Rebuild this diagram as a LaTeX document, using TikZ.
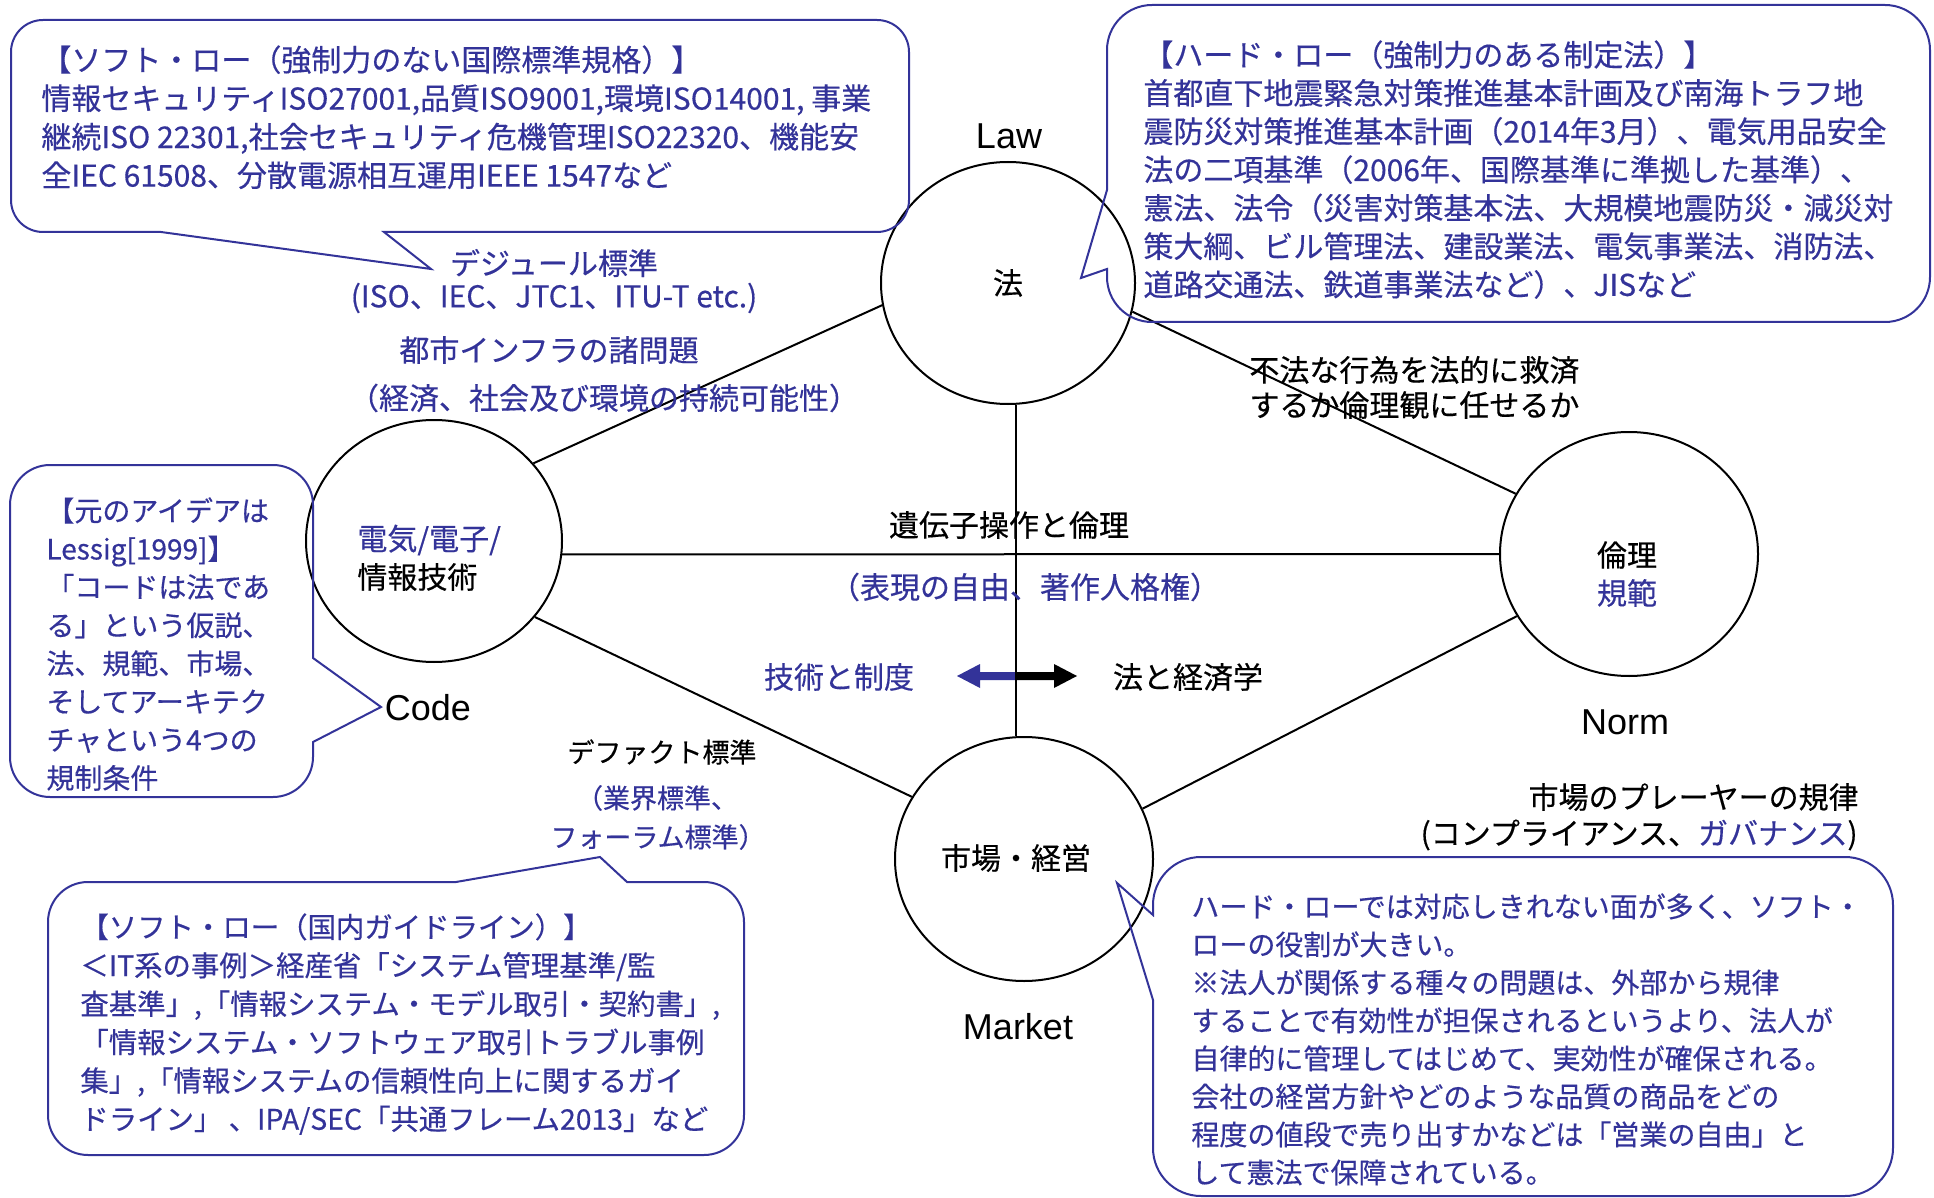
\documentclass[tikz,border=0pt]{standalone}
\usepackage{fontspec}
\setmainfont{Noto Sans CJK JP}[UprightFeatures={FakeBold=0.4}]
\newfontfamily\arialf{Liberation Sans}
\usetikzlibrary{shapes.geometric}
\definecolor{bl}{RGB}{51,51,153}
\tikzset{
  circ/.style={ellipse, draw, line width=1pt, inner sep=0pt},
  conn/.style={draw, line width=1pt},
  callout/.style={draw=bl, line width=1pt, line join=miter},
  jp/.style={inner sep=0pt, font=\fontsize{15}{18}\selectfont},
  jps/.style={inner sep=0pt, font=\fontsize{13.5}{16}\selectfont},
  para/.style={inner sep=0pt, align=left, anchor=north west, text=bl},
  lbl/.style={inner sep=0pt, font=\arialf\fontsize{18}{20}\selectfont},
}
\begin{document}
\begin{tikzpicture}[x=0.5pt,y=-0.5pt]
\fill[white] (0,0) rectangle (1934,1198);
\useasboundingbox (0,0) rectangle (1934,1198);

% circles
\node[circ, minimum width=127pt, minimum height=121pt] (law) at (1008,283) {};
\node[circ, minimum width=128pt, minimum height=121pt] (code) at (434,541) {};
\node[circ, minimum width=129pt, minimum height=122pt] (norm) at (1629,554) {};
\node[circ, minimum width=129pt, minimum height=122pt] (market) at (1024,859) {};

% double arrow
\fill[bl] (1017,672) -- (980,672) -- (980,664) -- (957,676) -- (980,688) -- (980,680) -- (1017,680) -- cycle;
\fill[black] (1017,672) -- (1054,672) -- (1054,664) -- (1077,676) -- (1054,688) -- (1054,680) -- (1017,680) -- cycle;

% connectors
\draw[conn] (law.190) -- (code.38);
\draw[conn] (law.347) -- (norm.152);
\draw[conn] (code.323) -- (market.151);
\draw[conn] (norm.209) -- (market.23);
\draw[conn] (code.354) -- (norm.180);
\draw[conn] ([xshift=4pt]law.south) -- ([xshift=-4pt]market.north);

% callouts
\draw[callout] (43,20) -- (877,20) arc[start angle=90,end angle=0,radius=16pt] -- (909,200) arc[start angle=0,end angle=-90,radius=16pt] -- (384,232) -- (431,269) -- (161,232) -- (43,232) arc[start angle=270,end angle=180,radius=16pt] -- (11,52) arc[start angle=180,end angle=90,radius=16pt] -- cycle;
\draw[callout] (1152,5) -- (1885,5) arc[start angle=90,end angle=0,radius=22.5pt] -- (1930,277) arc[start angle=0,end angle=-90,radius=22.5pt] -- (1152,322) arc[start angle=270,end angle=180,radius=22.5pt] -- (1107,269) -- (1081,278) -- (1107,190) -- (1107,50) arc[start angle=180,end angle=90,radius=22.5pt] -- cycle;
\draw[callout] (50,465) -- (273,465) arc[start angle=90,end angle=0,radius=20pt] -- (313,658) -- (381,707) -- (313,742) -- (313,757) arc[start angle=0,end angle=-90,radius=20pt] -- (50,797) arc[start angle=270,end angle=180,radius=20pt] -- (10,505) arc[start angle=180,end angle=90,radius=20pt] -- cycle;
\draw[callout] (88,882) -- (456,882) -- (600,857) -- (627,882) -- (704,882) arc[start angle=90,end angle=0,radius=20pt] -- (744,1115) arc[start angle=0,end angle=-90,radius=20pt] -- (88,1155) arc[start angle=270,end angle=180,radius=20pt] -- (48,922) arc[start angle=180,end angle=90,radius=20pt] -- cycle;
\draw[callout] (1201,857) -- (1845,857) arc[start angle=90,end angle=0,radius=24pt] -- (1893,1148) arc[start angle=0,end angle=-90,radius=24pt] -- (1201,1196) arc[start angle=270,end angle=180,radius=24pt] -- (1153,1000) -- (1117,883) -- (1153,915) -- (1153,905) arc[start angle=180,end angle=90,radius=24pt] -- cycle;

% callout texts
\node[para, font=\fontsize{15}{19.25}\selectfont] (t1) at (41,45) {【ソフト・ロー（強制力のない国際標準規格）】\\情報セキュリティISO27001,品質ISO9001,環境ISO14001, 事業\\継続ISO 22301,社会セキュリティ危機管理ISO22320、機能安\\全IEC 61508、分散電源相互運用IEEE 1547など};
\node[para, font=\fontsize{15}{19.15}\selectfont] (t2) at (1143,40) {【ハード・ロー（強制力のある制定法）】\\首都直下地震緊急対策推進基本計画及び南海トラフ地\\震防災対策推進基本計画（2014年3月）、電気用品安全\\法の二項基準（2006年、国際基準に準拠した基準）、\\憲法、法令（災害対策基本法、大規模地震防災・減災対\\策大綱、ビル管理法、建設業法、電気事業法、消防法、\\道路交通法、鉄道事業法など）、JISなど};
\node[para, font=\fontsize{14}{19.1}\selectfont] (t3) at (46,497) {【元のアイデアは\\Lessig[1999]】\\「コードは法であ\\る」という仮説、\\法、規範、市場、\\そしてアーキテク\\チャという4つの\\規制条件};
\node[para, font=\fontsize{14.2}{19.2}\selectfont] (t4) at (80,913) {【ソフト・ロー（国内ガイドライン）】\\＜IT系の事例＞経産省「システム管理基準/監\\査基準」,「情報システム・モデル取引・契約書」,\\「情報システム・ソフトウェア取引トラブル事例\\集」,「情報システムの信頼性向上に関するガイ\\ドライン」 、IPA/SEC「共通フレーム2013」など};
\node[para, font=\fontsize{14}{19}\selectfont] (t5) at (1191,893) {ハード・ローでは対応しきれない面が多く、ソフト・\\ローの役割が大きい。\\※法人が関係する種々の問題は、外部から規律\\することで有効性が担保されるというより、法人が\\自律的に管理してはじめて、実効性が確保される。\\会社の経営方針やどのような品質の商品をどの\\程度の値段で売り出すかなどは「営業の自由」と\\して憲法で保障されている。};

% English labels
\node[lbl] (lawl) at (1009,136) {Law};
\node[lbl] (codel) at (428,708) {Code};
\node[lbl] (norml) at (1625,722) {Norm};
\node[lbl] (marketl) at (1018,1027) {Market};

% circle texts
\node[jp] (fa) at (1008,283) {法};
\node[jp, anchor=west, text=bl] (ee) at (357,540) {電気/電子/};
\node[jp, anchor=west] (it) at (357,577) {情報技術};
\node[jp] (rinri) at (1627,555) {倫理};
\node[jp, text=bl] (kihan) at (1627,593) {規範};
\node[jp] (ichiba) at (1016,858) {市場・経営};

% other labels
\node[jp, text=bl] (dejure) at (554,263) {デジュール標準};
\node[jp, text=bl] (iso) at (554,298) {(ISO、IEC、JTC1、ITU-T etc.)};
\node[jp, text=bl] (toshi) at (549,350) {都市インフラの諸問題};
\node[jp, text=bl] (keizai) at (604,398) {（経済、社会及び環境の持続可能性）};
\node[jp, anchor=west] (fuho1) at (1249,370) {不法な行為を法的に救済};
\node[jp, anchor=west] (fuho2) at (1249,405) {するか倫理観に任せるか};
\node[jp] (iden) at (1009,525) {遺伝子操作と倫理};
\node[jp, text=bl] (hyogen) at (1025,587) {（表現の自由、著作人格権）};
\node[jp, text=bl] (gijutsu) at (839,677) {技術と制度};
\node[jp] (hoto) at (1188,677) {法と経済学};
\node[jps] (defacto) at (662,752) {デファクト標準};
\node[jps, text=bl] (gyokai) at (657,798) {（業界標準、};
\node[jps, text=bl] (forum) at (658,837) {フォーラム標準）};
\node[jp, anchor=east] (player1) at (1859,797) {市場のプレーヤーの規律};
\node[jp, anchor=east] (player2) at (1858,835) {(コンプライアンス、\textcolor{bl}{ガバナンス})};
\end{tikzpicture}
\end{document}
